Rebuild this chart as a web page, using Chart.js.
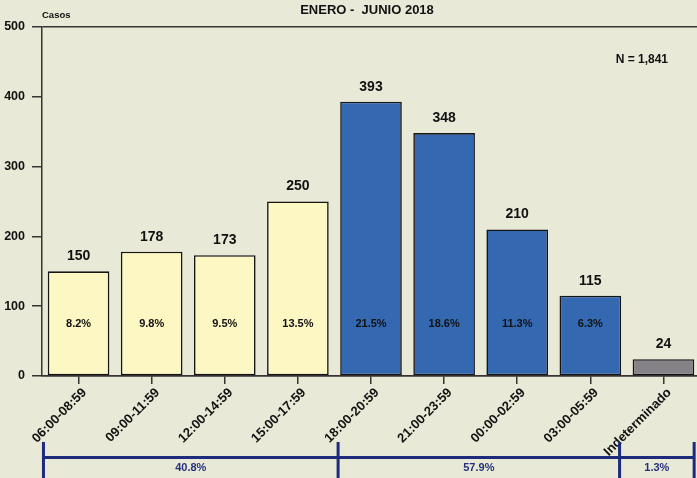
<!DOCTYPE html>
<html>
<head>
<meta charset="utf-8">
<script src="https://cdn.jsdelivr.net/npm/chart.js@4/dist/chart.umd.min.js"></script>
<style>
  html, body { margin: 0; padding: 0; overflow: hidden; background: #e8e9d7; }
  #wrap { width: 700px; height: 478px; }
</style>
</head>
<body>
<div id="wrap"><canvas id="c" width="700" height="478"></canvas></div>
<script>
const categories = ['06:00-08:59','09:00-11:59','12:00-14:59','15:00-17:59','18:00-20:59','21:00-23:59','00:00-02:59','03:00-05:59','Indeterminado'];
const casos = [150, 178, 173, 250, 393, 348, 210, 115, 24];
const percents = ['8.2%','9.8%','9.5%','13.5%','21.5%','18.6%','11.3%','6.3%', null];
const groups = ['diurno','diurno','diurno','diurno','nocturno','nocturno','nocturno','nocturno','indet'];
const groupLabels = ['40.8%', '57.9%', '1.3%'];
const yTicks = [0, 100, 200, 300, 400, 500];
const titleText = 'ENERO -  JUNIO 2018';
const nText = 'N = 1,841';

const groupColors = { diurno: '#fcf7c3', nocturno: '#3468b0', indet: '#858388' };
const AXIS = '#3a3333';
const SANS = "'Liberation Sans', Arial, sans-serif";

const annotate = {
  id: 'annotate',
  afterDatasetsDraw(chart) {
    const ctx = chart.ctx;
    const meta = chart.getDatasetMeta(0);
    const x = chart.scales.x, y = chart.scales.y;
    ctx.save();
    ctx.fillStyle = '#111';
    ctx.textAlign = 'center';
    ctx.textBaseline = 'middle';
    ctx.font = "bold 14px " + SANS;
    meta.data.forEach((bar, i) => {
      ctx.fillText(String(casos[i]), bar.x, bar.y - 15);
    });
    ctx.font = "bold 11px " + SANS;
    meta.data.forEach((bar, i) => {
      if (percents[i]) ctx.fillText(percents[i], bar.x, y.getPixelForValue(75));
    });
    ctx.font = "bold 13px " + SANS;
    ctx.fillText(titleText, 367, 10);
    ctx.textAlign = 'left';
    ctx.font = "bold 9.5px " + SANS;
    ctx.fillText('Casos', 42, 15.5);
    ctx.textAlign = 'right';
    ctx.font = "bold 12px " + SANS;
    ctx.fillText(nText, 668, 60);

    // group brackets
    const w = x.getPixelForValue(1) - x.getPixelForValue(0);
    const order = ['diurno','nocturno','indet'];
    const edges = [];
    order.forEach((g, k) => {
      const first = groups.indexOf(g);
      const last = groups.lastIndexOf(g);
      if (k === 0) edges.push(x.getPixelForValue(first) - 0.48 * w);
      edges.push(x.getPixelForValue(last) + (k === 0 ? 0.55 : k === 1 ? 0.40 : 0.42) * w);
    });
    const by = 457.5;
    ctx.strokeStyle = '#1e2a7c';
    ctx.lineWidth = 3;
    ctx.beginPath();
    ctx.moveTo(edges[0], by);
    ctx.lineTo(edges[edges.length - 1], by);
    edges.forEach(e => { ctx.moveTo(e, 442); ctx.lineTo(e, 480); });
    ctx.stroke();
    ctx.fillStyle = '#25307d';
    ctx.textAlign = 'center';
    ctx.font = "bold 11px " + SANS;
    groupLabels.forEach((t, k) => {
      ctx.fillText(t, (edges[k] + edges[k + 1]) / 2, 467.5);
    });
    ctx.restore();
  }
};

new Chart(document.getElementById('c'), {
  type: 'bar',
  data: {
    labels: categories,
    datasets: [{
      data: casos,
      backgroundColor: groups.map(g => groupColors[g]),
      borderColor: '#151515',
      borderWidth: 1.6,
      borderSkipped: false,
      barPercentage: 0.843,
      categoryPercentage: 1.0
    }]
  },
  options: {
    responsive: false,
    devicePixelRatio: 1,
    animation: false,
    layout: { padding: { top: 27, right: 0, left: 0, bottom: 0 } },
    plugins: { legend: { display: false }, tooltip: { enabled: false }, title: { display: false } },
    scales: {
      x: {
        offset: true,
        grid: { offset: false, drawOnChartArea: false, tickLength: 8, color: AXIS, tickColor: AXIS, lineWidth: 1.5 },
        border: { display: true, color: AXIS, width: 1.5 },
        ticks: {
          minRotation: 45, maxRotation: 45, autoSkip: false, padding: 1, labelOffset: 6,
          color: '#111', font: { family: SANS, size: 13, weight: 'bold' }
        },
        afterFit(s) { s.height = 102; }
      },
      y: {
        min: 0, max: 500,
        afterBuildTicks(s) { s.ticks = yTicks.map(v => ({ value: v })); },
        grid: {
          drawOnChartArea: true, tickLength: 10, lineWidth: 1.5,
          color: c => (c.tick && (c.tick.value === 500 || c.tick.value === 0)) ? AXIS : 'rgba(0,0,0,0)',
          tickColor: AXIS
        },
        border: { display: true, color: AXIS, width: 1.5 },
        ticks: { padding: 7, color: '#111', font: { family: SANS, size: 12.5, weight: 'bold' } },
        afterFit(s) { s.width = 42; }
      }
    }
  },
  plugins: [annotate]
});
</script>
</body>
</html>
